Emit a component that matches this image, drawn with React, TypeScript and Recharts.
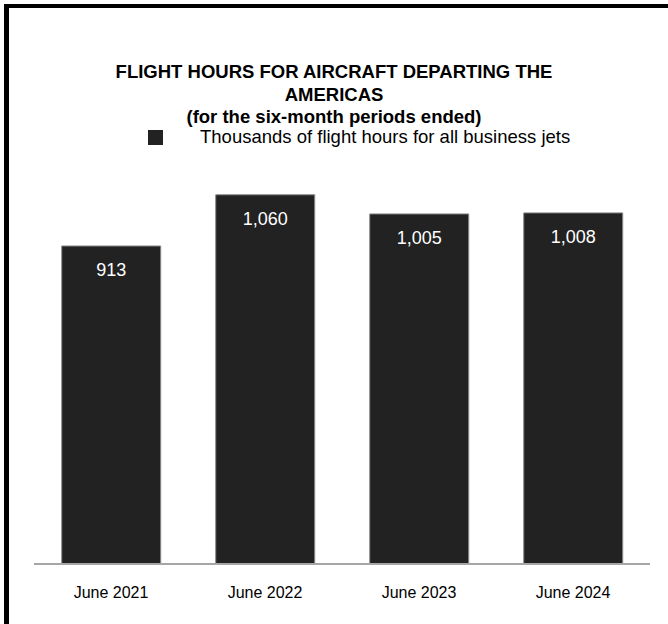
import React from "react";
import { BarChart, Bar, XAxis, YAxis, LabelList } from "recharts";

const categories = ["June 2021", "June 2022", "June 2023", "June 2024"];
const flightHours = [913, 1060, 1005, 1008];
const titleLines = [
  "FLIGHT HOURS FOR AIRCRAFT DEPARTING THE",
  "AMERICAS",
  "(for the six-month periods ended)",
];
const legendLabel = "Thousands of flight hours for all business jets";

const data = categories.map((c, i) => ({ name: c, value: flightHours[i] }));

const FONT = "'Liberation Sans', Arial, sans-serif";

export default function App() {
  return (
    <div
      style={{
        position: "absolute",
        left: 0,
        top: 0,
        width: 668,
        height: 624,
        background: "#fff",
        overflow: "hidden",
        fontFamily: FONT,
      }}
    >
      <div
        style={{
          position: "absolute",
          left: 4,
          top: 4,
          width: 700,
          height: 700,
          borderLeft: "5px solid #000",
          borderTop: "4px solid #000",
        }}
      />
      <div
        style={{
          position: "absolute",
          left: 0,
          top: 61,
          width: 668,
          textAlign: "center",
          fontWeight: "bold",
          fontSize: 18.5,
          lineHeight: "22.5px",
          color: "#000",
        }}
      >
        {titleLines.map((t) => (
          <div key={t}>{t}</div>
        ))}
      </div>
      <div
        style={{
          position: "absolute",
          left: 148,
          top: 126,
          height: 22,
          display: "flex",
          alignItems: "center",
          fontSize: 18.5,
          color: "#000",
        }}
      >
        <div style={{ width: 15, height: 15, background: "#222", marginRight: 37 }} />
        <span>{legendLabel}</span>
      </div>
      <BarChart
        width={668}
        height={624}
        data={data}
        margin={{ top: 146, right: 18, bottom: 30, left: 34 }}
        barCategoryGap="18%"
        style={{ position: "absolute", left: 0, top: 0 }}
      >
        <YAxis hide domain={[0, 1200]} />
        <XAxis
          dataKey="name"
          height={30}
          axisLine={{ stroke: "#a6a6a6", strokeWidth: 2 }}
          tickLine={false}
          tickMargin={17}
          tick={{ fill: "#000", fontSize: 16, fontFamily: FONT }}
        />
        <Bar
          dataKey="value"
          fill="#222222"
          stroke="#8a8a8a"
          strokeWidth={1}
          isAnimationActive={false}
        >
          <LabelList
            dataKey="value"
            position="insideTop"
            offset={17}
            fill="#ffffff"
            fontSize={18}
            fontFamily={FONT}
            formatter={(v: number) => v.toLocaleString("en-US")}
          />
        </Bar>
      </BarChart>
    </div>
  );
}
